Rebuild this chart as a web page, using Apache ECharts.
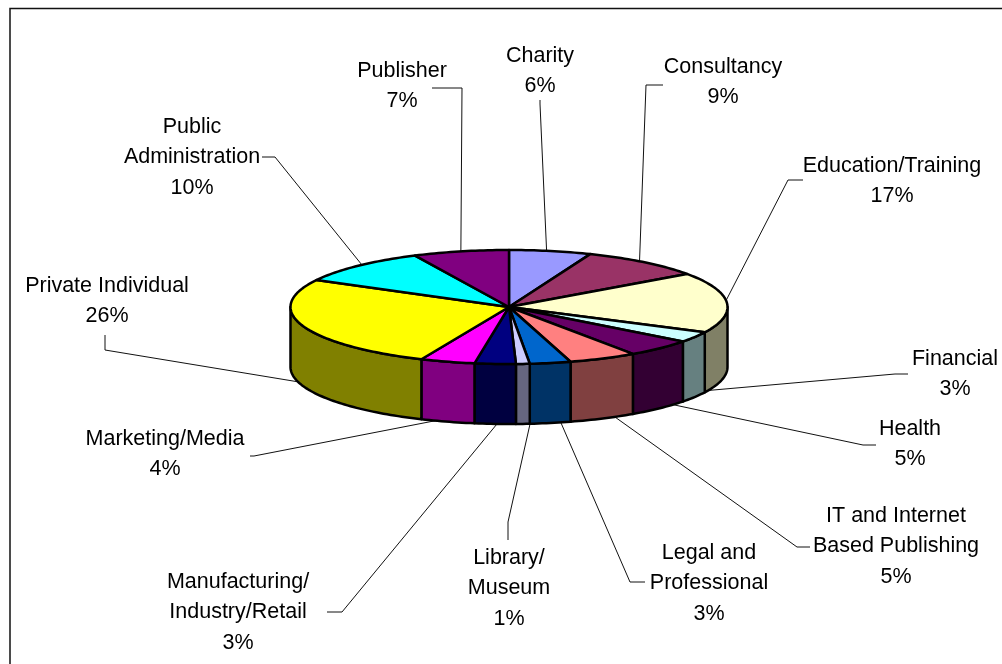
<!DOCTYPE html>
<html>
<head>
<meta charset="utf-8">
<style>html,body{margin:0;padding:0;background:#fff}#chart{width:1002px;height:664px}</style>
<script src="https://cdn.jsdelivr.net/npm/echarts@6/dist/echarts.min.js"></script>
</head>
<body>
<div id="chart"></div>
<script>
// Sector shares, clockwise from twelve o'clock
const categories = ['Charity','Consultancy','Education/Training','Financial','Health',
  'IT and Internet Based Publishing','Legal and Professional','Library/ Museum',
  'Manufacturing/ Industry/Retail','Marketing/Media','Private Individual',
  'Public Administration','Publisher'];
const shares = [6,9,17,3,5,5,3,1,3,4,26,10,7];
const topColors = ['#9999FF','#993366','#FFFFCC','#CCFFFF','#660066','#FF8080','#0066CC',
  '#CCCCFF','#000080','#FF00FF','#FFFF00','#00FFFF','#800080'];
const wallColors = ['#4D4D80','#4D1A33','#808066','#668080','#330033','#804040','#003366',
  '#666680','#000040','#800080','#808000','#008080','#400040'];

// Wrapped label text for each sector
const labelLines = [['Charity'],['Consultancy'],['Education/Training'],['Financial'],['Health'],
  ['IT and Internet','Based Publishing'],['Legal and','Professional'],['Library/','Museum'],
  ['Manufacturing/','Industry/Retail'],['Marketing/Media'],['Private Individual'],
  ['Public','Administration'],['Publisher']];

// Label placement: text centre, top line centre, the leader's two outer points,
// and a small turn in degrees for where the leader meets the rim
const labelPlacement = [
  {x:540,y:56,leader:[[540,100],[540,104]],turn:-1},
  {x:723,y:67,leader:[[663,85],[646,85]],turn:-1.5},
  {x:892,y:166,leader:[[803,180],[788,180]],turn:-2},
  {x:955,y:359,leader:[[908,374],[895,374]],turn:-7.5},
  {x:910,y:429,leader:[[876,445],[863,445]],turn:-5},
  {x:896,y:516,leader:[[810,547],[797,547]],turn:-3.5},
  {x:709,y:553,leader:[[645,582],[630,582]],turn:-2.8},
  {x:509,y:558,leader:[[508,540],[508,522]],turn:-1.9},
  {x:238,y:582,leader:[[327,612],[342,612]],turn:-0.5},
  {x:165,y:439,leader:[[250,456],[254,456]],turn:3.3},
  {x:107,y:286,leader:[[105,335],[105,350]],turn:4},
  {x:192,y:127,leader:[[262,157],[275,157]],turn:1.3},
  {x:402,y:71,leader:[[432,88],[462,88]],turn:0}
];

const CX = 509, CY = 307, RX = 218.5, RY = 57, DEPTH = 60, LINE_H = 30.5;
const FONT = '21.5px "Liberation Sans", Arial, sans-serif';
const total = shares.reduce((a, b) => a + b, 0);

// Running start angle per sector, in radians clockwise from the top
const startAngles = [];
shares.reduce((sum, v, i) => { startAngles[i] = sum / total * 2 * Math.PI; return sum + v; }, 0);

const rim = (a, drop) => [CX + RX * Math.sin(a), CY - RY * Math.cos(a) + (drop || 0)];

function arcPoints(a0, a1, drop) {
  const n = Math.max(2, Math.ceil((a1 - a0) / 0.02));
  const pts = [];
  for (let k = 0; k <= n; k++) pts.push(rim(a0 + (a1 - a0) * k / n, drop));
  return pts;
}

function renderSlice(params, api) {
  const i = api.value(0);
  const a0 = startAngles[i];
  const a1 = a0 + api.value(1) / total * 2 * Math.PI;
  const children = [];
  const edge = {stroke: '#000', lineWidth: 2.5, lineJoin: 'round'};

  // Side wall, only where the rim faces the viewer
  const w0 = Math.max(a0, Math.PI / 2), w1 = Math.min(a1, Math.PI * 1.5);
  if (w1 > w0) {
    const front = arcPoints(w0, w1, 0);
    const back = arcPoints(w0, w1, DEPTH).reverse();
    children.push({type: 'polygon', z2: 1, shape: {points: front.concat(back)},
      style: Object.assign({fill: wallColors[i]}, edge)});
  }
  // Top face
  children.push({type: 'polygon', z2: 2, shape: {points: [[CX, CY]].concat(arcPoints(a0, a1, 0))},
    style: Object.assign({fill: topColors[i]}, edge)});

  // Leader from the label to the rim near the sector's mid angle
  const place = labelPlacement[i];
  const mid = (a0 + a1) / 2 + place.turn * Math.PI / 180;
  const onFront = Math.cos(mid) < 0;
  children.push({type: 'polyline', z2: 0,
    shape: {points: place.leader.concat([rim(mid, onFront ? DEPTH : 0)])},
    style: {stroke: '#111', lineWidth: 1, fill: null}});

  // Label lines, with the share on the last row
  const rows = labelLines[i].concat([api.value(1) + '%']);
  rows.forEach((t, r) => children.push({type: 'text', z2: 3,
    style: {text: t, x: place.x, y: place.y + r * LINE_H, font: FONT, fill: '#000',
      align: 'center', verticalAlign: 'middle'}}));
  return {type: 'group', children};
}

const chart = echarts.init(document.getElementById('chart'), null, {renderer: 'canvas'});
chart.setOption({
  animation: false,
  backgroundColor: '#fff',
  // Chart frame: only its top and left edges fall inside the page
  graphic: [{type: 'rect', silent: true, shape: {x: 10, y: 8.5, width: 1010, height: 680},
    style: {fill: 'none', stroke: '#111', lineWidth: 1.5}}],
  series: [{
    type: 'custom',
    coordinateSystem: 'none',
    clip: false,
    silent: true,
    renderItem: renderSlice,
    data: shares.map((v, i) => ({name: categories[i], value: [i, v]}))
  }]
});
</script>
</body>
</html>
